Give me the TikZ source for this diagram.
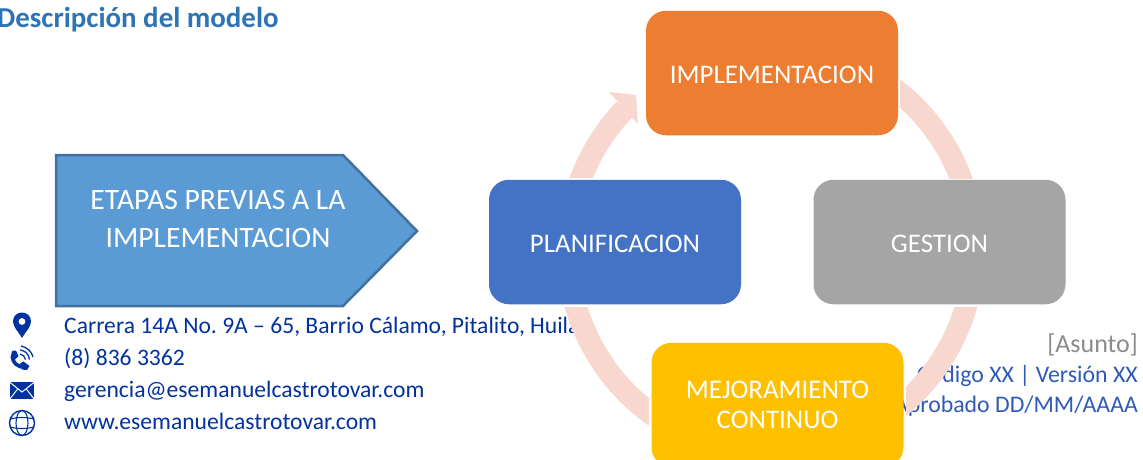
\documentclass[tikz,border=0pt]{standalone}
\usepackage{fontspec}
\setmainfont{Carlito}
\frenchspacing
\definecolor{ringc}{HTML}{F8D8CE}
\definecolor{contact}{HTML}{0033A0}
\definecolor{meta}{HTML}{2F5BB7}
\definecolor{titlec}{HTML}{2E74B5}
\definecolor{metagray}{HTML}{8C8C8C}
\definecolor{pentfill}{HTML}{5B9BD5}
\definecolor{pentdraw}{HTML}{41719C}
\definecolor{cimpl}{HTML}{ED7D31}
\definecolor{cgest}{HTML}{A5A5A5}
\definecolor{cplan}{HTML}{4472C4}
\definecolor{cmej}{HTML}{FFC000}
\newcommand{\lowertext}[1]{\raisebox{0pt}[\dimexpr\height+3.5pt\relax][\depth]{#1}}
\tikzset{
  cyclebox/.style={draw=none,rounded corners=20pt,minimum width=252pt,minimum height=124.5pt,inner sep=0pt,text=white,align=center,font=\fontsize{26.9}{30}\selectfont},
  contactline/.style={anchor=base west,inner sep=0pt,text=contact,font=\fontsize{23.6}{28}\selectfont},
  metaline/.style={anchor=base east,inner sep=0pt,text=meta,font=\fontsize{23.8}{28}\selectfont},
  ringband/.style={draw=ringc,line width=22pt},
}
\begin{document}
\begin{tikzpicture}[x=1pt,y=-1pt]
\useasboundingbox (0,0) rectangle (1143,459);
\fill[white] (0,0) rectangle (1143,459);
% title
\node[anchor=base west,inner sep=0pt,text=titlec,font=\fontsize{28.9}{30}\selectfont\bfseries] (title) at (-3,27) {Descripción del modelo};
% contact
\node[contactline] (addr) at (64,333) {Carrera 14A No. 9A – 65, Barrio Cálamo, Pitalito, Huila};
\node[contactline] (tel) at (64,365) {(8) 836 3362};
\node[contactline] (mail) at (64,397) {gerencia@esemanuelcastrotovar.com};
\node[contactline] (web) at (64,429) {www.esemanuelcastrotovar.com};
% meta
\node[anchor=base east,inner sep=0pt,text=metagray,font=\fontsize{26}{30}\selectfont] (asunto) at (1138,352) {[Asunto]};
\node[metaline] (codigo) at (1138,382) {Código XX | Versión XX};
\node[metaline] (aprob) at (1138,412) {Aprobado DD/MM/AAAA};
% icons
\fill[contact] (22,338) .. controls (18,331) and (13,327) .. (13,321.5) .. controls (13,309.5) and (31,309.5) .. (31,321.5) .. controls (31,327) and (26,331) .. (22,338) -- cycle;
\fill[white] (22,321.5) circle[radius=3.4];
\draw[contact,line width=3.6pt] (12.5,356) .. controls (12,363) and (18,367) .. (25,367.5);
\fill[contact] (12,351) -- (16,350.5) -- (18.5,356) -- (15,359.5) -- (10.5,358) -- cycle;
\fill[contact] (20,363.5) -- (23.5,361.5) -- (29.5,366) -- (27,370) -- (22,369.5) -- cycle;
\draw[contact,line width=1.3pt] (20,354) .. controls (23,354.5) and (25,356.5) .. (25.5,359.5);
\draw[contact,line width=1.3pt] (20,350) .. controls (25,350.5) and (29,354) .. (29.5,359.5);
\draw[contact,line width=1.3pt] (21,346) .. controls (27,347) and (32,352) .. (33,357);
\fill[contact] (10,382) rectangle (34,399);
\draw[white,line width=1pt] (9.5,382) -- (22,392) -- (34.5,382) (9.5,399.5) -- (18,388.5) (34.5,399.5) -- (26,388.5);
\draw[contact,line width=1.4pt] (22,423) circle[radius=12.5];
\draw[contact,line width=1.1pt] (22,423) ellipse[x radius=6,y radius=12.5];
\draw[contact,line width=1.1pt] (10.5,419) .. controls (17,417) and (27,417) .. (33.5,419) (10.5,427) .. controls (17,429) and (27,429) .. (33.5,427);
% pentagon
\path[fill=pentfill,draw=pentdraw,line width=2.5pt,line join=miter] (56,155) -- (343,155) -- (417,231) -- (343,306) -- (56,306) -- cycle;
\node[text=white,align=center,inner sep=0pt,font=\fontsize{29.6}{38}\selectfont] (prev) at (218,219) {ETAPAS PREVIAS A LA\\IMPLEMENTACION};
% ring
\coordinate (c) at (771,250);
\begin{scope}
\clip (900,0) rectangle (1143,178);
\draw[ringband] (c) ++(-75:203) arc[start angle=-75,end angle=-10,radius=203];
\end{scope}
\begin{scope}
\clip (906,307) rectangle (1143,459);
\draw[ringband] (c) ++(10:203) arc[start angle=10,end angle=70,radius=203];
\end{scope}
\begin{scope}
\clip (400,307) rectangle (649,459);
\draw[ringband] (c) ++(110:203) arc[start angle=110,end angle=170,radius=203];
\end{scope}
\begin{scope}
\clip (400,0) rectangle (700,177);
\draw[ringband] (c) ++(190:203) arc[start angle=190,end angle=224,radius=203];
\end{scope}
\fill[ringc] (609,92) -- (636,95) -- (638,124) -- cycle;
% boxes
\node[cyclebox,fill=cimpl] (impl) at (772,73) {\lowertext{IMPLEMENTACION}};
\node[cyclebox,fill=cgest] (gest) at (939.5,242) {\lowertext{GESTION}};
\node[cyclebox,fill=cplan] (plan) at (615,242) {\lowertext{PLANIFICACION}};
\node[cyclebox,fill=cmej] (mej) at (777.5,405) {MEJORAMIENTO\\CONTINUO};
\end{tikzpicture}
\end{document}
